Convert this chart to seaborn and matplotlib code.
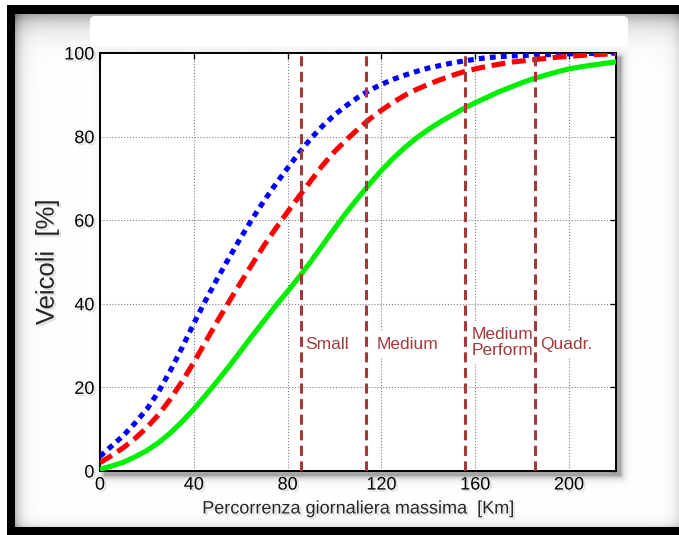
import numpy as np
import pandas as pd
import matplotlib
matplotlib.use("Agg")
import matplotlib.pyplot as plt
import seaborn as sns
from matplotlib.patches import FancyBboxPatch
import matplotlib.patheffects as pe

# ---------------- data ----------------
km = [0, 5, 10, 15, 20, 25, 30, 35, 40, 45, 50, 55, 60, 65, 70, 75, 80, 85,
      90, 95, 100, 105, 110, 115, 120, 125, 130, 135, 140, 145, 150, 155,
      160, 165, 170, 175, 180, 185, 190, 195, 200, 205, 210, 215, 220]
blue = [3.5, 6.0, 8.5, 11.5, 14.8, 19.0, 24.0, 29.5, 35.3, 40.8, 46.0, 51.0,
        55.8, 60.4, 64.7, 68.7, 72.5, 76.2, 79.6, 82.6, 85.2, 87.4, 89.4,
        91.1, 92.5, 93.7, 94.7, 95.6, 96.4, 97.0, 97.6, 98.1, 98.5, 98.9,
        99.1, 99.3, 99.4, 99.5, 99.6, 99.7, 99.8, 99.85, 99.9, 99.95, 100.0]
red = [2.0, 3.7, 5.6, 7.8, 10.4, 13.5, 17.2, 21.4, 26.0, 30.9, 35.8, 40.5,
       45.1, 49.6, 54.0, 58.1, 62.0, 65.8, 69.5, 73.2, 76.4, 79.2, 81.8,
       84.2, 86.3, 88.2, 89.9, 91.3, 92.5, 93.6, 94.6, 95.5, 96.2, 96.8,
       97.3, 97.8, 98.1, 98.4, 98.7, 99.0, 99.2, 99.4, 99.6, 99.7, 99.8]
green = [0.4, 1.2, 2.1, 3.4, 4.9, 6.8, 9.1, 11.8, 14.8, 18.1, 21.5, 25.0,
         28.7, 32.4, 36.0, 39.6, 43.0, 46.5, 50.2, 54.1, 58.0, 61.8, 65.3,
         68.7, 71.9, 74.8, 77.4, 79.7, 81.7, 83.5, 85.1, 86.7, 88.1, 89.4,
         90.7, 91.8, 92.9, 93.9, 94.7, 95.5, 96.2, 96.7, 97.1, 97.5, 97.9]
class_limits = [85.5, 113.5, 155.5, 185.5]
class_labels = ["Small", "Medium", "Medium\nPerform.", "Quadr."]

x_ticks = [0, 40, 80, 120, 160, 200]
y_ticks = [0, 20, 40, 60, 80, 100]

df = pd.DataFrame({"km": km, "blue": blue, "red": red, "green": green})

# ---------------- figure ----------------
sns.set_style("white")
plt.rcParams["font.family"] = ["Liberation Sans", "DejaVu Sans"]

W, H = 679, 535
fig = plt.figure(figsize=(W / 100, H / 100), dpi=100)

# background decoration (frame with inner shadow)
yy, xx = np.mgrid[0:H, 0:W].astype(float)
shade = np.ones((H, W))
d_left = np.clip(xx - 14, 0, None)
d_top = np.clip(yy - 13, 0, None)
d_right = np.clip(684 - xx, 0, None)
d_bot = np.clip(527 - yy, 0, None)
shade -= 0.30 * np.exp(-d_left / 6)
shade -= 0.35 * np.exp(-d_top / 12)
shade -= 0.30 * np.exp(-d_right / 6)
shade -= 0.15 * np.exp(-d_bot / 4)
# axes drop shadow
x0, x1, y0, y1 = 104, 620, 57, 475
dx = np.maximum(0, np.maximum(xx - x1, x0 - xx))
dy = np.maximum(0, np.maximum(yy - y1, y0 - yy))
dist = np.hypot(dx, dy)
shade -= 0.35 * np.exp(-dist / 3)
shade = np.clip(shade, 0, 1)
outer = (xx < 7) | (yy < 5)
shade[outer] = 1.0
black = (~outer) & (((yy >= 5) & (yy <= 13)) | ((xx >= 7) & (xx <= 14)) | (yy >= 527))
shade[black] = 0.0
img = np.dstack([shade] * 3)

ax_bg = fig.add_axes([0, 0, 1, 1], zorder=-10)
ax_bg.imshow(img, aspect="auto", interpolation="bilinear")
ax_bg.axis("off")

# white rounded box at top
box = FancyBboxPatch((90 / W, 1 - 47 / H), (628 - 90) / W, (47 - 16) / H,
                     boxstyle="round,pad=0,rounding_size=0.008",
                     transform=fig.transFigure, facecolor="white",
                     edgecolor="none", zorder=-5)
fig.patches.append(box)

ax = fig.add_axes([100 / W, (H - 471) / H, (616 - 100) / W, (471 - 53) / H])
ax.set_facecolor("white")

lw = 3.7
sns.lineplot(data=df, x="km", y="blue", ax=ax, color="#0000FF", lw=lw,
             zorder=4)
sns.lineplot(data=df, x="km", y="red", ax=ax, color="#FF0000", lw=lw,
             zorder=4)
sns.lineplot(data=df, x="km", y="green", ax=ax, color="#00EE00", lw=lw,
             zorder=4)
lines = ax.get_lines()
lines[0].set_dashes((1.15, 1.0))
lines[0].set_dash_capstyle("butt")
lines[1].set_dashes((2.7, 1.3))
lines[1].set_dash_capstyle("butt")
for ln in lines:
    ln.set_solid_joinstyle("round")
    ln.set_dash_joinstyle("round")

brown = "#A3393B"
for xv in class_limits:
    ax.axvline(xv, color=brown, lw=2.2, dashes=(3.3, 1.8), zorder=5)

shadow = [pe.SimplePatchShadow(offset=(1.5, -1.5), shadow_rgbFace="#888888",
                               alpha=0.25), pe.Normal()]

label_x = [87.4, 118.0, 158.3, 187.6]
label_y = [30.2, 30.2, 30.8, 30.2]
for xl, yl, t in zip(label_x, label_y, class_labels):
    ax.text(xl, yl, t, color=brown, fontsize=12.5, ha="left", va="center",
            linespacing=1.05, zorder=3,
            bbox=dict(boxstyle="square,pad=0.35", facecolor="white",
                      edgecolor="none"))

ax.set_xlim(0, 220)
ax.set_ylim(0, 100)
ax.set_xticks(x_ticks)
ax.set_yticks(y_ticks)
ax.grid(True, color="#808080", linestyle=":", linewidth=0.8)
ax.set_axisbelow(True)
ax.tick_params(direction="in", top=True, right=True, length=4, width=0.9,
               labelsize=13, colors="black", pad=4)
for s in ax.spines.values():
    s.set_visible(True)
    s.set_color("black")
    s.set_linewidth(1.4)

ax.set_xlabel("Percorrenza giornaliera massima  [Km]", fontsize=13,
              labelpad=5, path_effects=shadow)
ax.set_ylabel("Veicoli  [%]", fontsize=18.5, labelpad=4, path_effects=shadow)
for lab in ax.get_xticklabels() + ax.get_yticklabels():
    lab.set_path_effects(shadow)

fig.savefig("out.png", dpi=100)
